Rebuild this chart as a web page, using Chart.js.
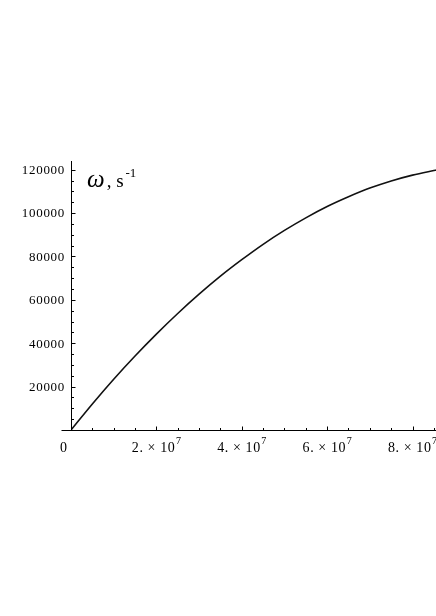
<!DOCTYPE html>
<html>
<head>
<meta charset="utf-8">
<script src="https://cdn.jsdelivr.net/npm/chart.js@4/dist/chart.umd.min.js"></script>
<style>
  html, body { margin: 0; padding: 0; background: #ffffff; }
  #wrap { width: 436px; height: 616px; position: relative; }
</style>
</head>
<body>
<div id="wrap"><canvas id="c" width="436" height="616"></canvas></div>
<script>
// ---- data ----
const xValues = [0, 5e6, 1e7, 1.5e7, 2e7, 2.5e7, 3e7, 3.5e7, 4e7, 4.5e7, 5e7, 5.5e7, 6e7, 6.5e7, 7e7, 7.5e7, 8e7, 8.5e7, 8.55e7];
const omegaValues = [0, 12000, 23400, 34100, 44200, 53700, 62600, 70900, 78500, 85600, 92000, 97800, 103000, 107500, 111500, 114800, 117500, 119600, 119800];

const yTickValues = [20000, 40000, 60000, 80000, 100000, 120000];
const yTickLabels = ["20000", "40000", "60000", "80000", "100000", "120000"];
const xTickValues = [2e7, 4e7, 6e7, 8e7];
const xTickMantissas = ["2.", "4.", "6.", "8."];
const xTickExponent = "7";
const originLabel = "0";
const xMinorStep = 5e6;
const yMinorStep = 5000;
const xMax = 8.55e7;
const yMax = 124000;

const axisLabelSymbol = "\u03C9";
const axisLabelUnit = ", s";
const axisLabelExp = "-1";

const points = xValues.map((x, i) => ({ x: x, y: omegaValues[i] }));

const SERIF = '"Liberation Serif", "Times New Roman", serif';

const axesPlugin = {
  id: 'mmaAxes',
  afterDraw(chart) {
    const ctx = chart.ctx;
    const xs = chart.scales.x, ys = chart.scales.y;
    const x0 = xs.getPixelForValue(0), y0 = ys.getPixelForValue(0);
    const xEnd = xs.getPixelForValue(xMax), yTop = ys.getPixelForValue(yMax);
    ctx.save();
    ctx.strokeStyle = '#000';
    ctx.lineWidth = 1;
    // axes lines
    ctx.beginPath();
    ctx.moveTo(x0 - 9.5, Math.round(y0) + 0.5);
    ctx.lineTo(xEnd, Math.round(y0) + 0.5);
    ctx.moveTo(Math.round(x0) + 0.5, Math.round(y0) + 0.5);
    ctx.lineTo(Math.round(x0) + 0.5, yTop);
    ctx.stroke();
    // x ticks (pointing up)
    ctx.beginPath();
    for (let v = xMinorStep; v <= xMax; v += xMinorStep) {
      const px = Math.round(xs.getPixelForValue(v)) + 0.5;
      const major = xTickValues.some(t => Math.abs(t - v) < 1);
      ctx.moveTo(px, Math.round(y0));
      ctx.lineTo(px, Math.round(y0) - (major ? 3.5 : 2));
    }
    // y ticks (pointing right)
    for (let v = yMinorStep; v <= yMax; v += yMinorStep) {
      const py = Math.round(ys.getPixelForValue(v)) + 0.5;
      const major = yTickValues.some(t => Math.abs(t - v) < 1);
      ctx.moveTo(Math.round(x0) + 1, py);
      ctx.lineTo(Math.round(x0) + 1 + (major ? 3.5 : 2), py);
    }
    ctx.stroke();

    // y labels
    ctx.fillStyle = '#000';
    ctx.font = '13px ' + SERIF;
    try { ctx.letterSpacing = '0.7px'; } catch (e) {}
    ctx.textAlign = 'right';
    ctx.textBaseline = 'middle';
    yTickValues.forEach((v, i) => {
      ctx.fillText(yTickLabels[i], x0 - 6, ys.getPixelForValue(v) + 1);
    });

    // x labels
    ctx.textBaseline = 'alphabetic';
    const base = y0 + 22;
    ctx.textAlign = 'center';
    ctx.font = '14px ' + SERIF;
    try { ctx.letterSpacing = '0px'; } catch (e) {}
    ctx.fillText(originLabel, x0 - 7.5, base);
    xTickValues.forEach((v, i) => {
      const main = xTickMantissas[i] + " \u00D7 10";
      try { ctx.letterSpacing = '0.6px'; } catch (e) {}
      ctx.font = '14px ' + SERIF;
      const w1 = ctx.measureText(main).width;
      ctx.font = '10px ' + SERIF;
      const w2 = ctx.measureText(xTickExponent).width;
      const total = w1 + w2;
      const px = xs.getPixelForValue(v);
      const left = px - total / 2;
      ctx.textAlign = 'left';
      ctx.font = '14px ' + SERIF;
      ctx.fillText(main, left, base);
      ctx.font = '10px ' + SERIF;
      ctx.fillText(xTickExponent, left + w1 + 0.5, base - 8);
    });
    try { ctx.letterSpacing = '0px'; } catch (e) {}

    // axis label  ω, s^-1
    const lx = x0 + 16, ly = yTop + 26;
    ctx.textAlign = 'left';
    ctx.font = 'italic 25px ' + SERIF;
    ctx.fillText(axisLabelSymbol, lx, ly);
    const wω = ctx.measureText(axisLabelSymbol).width;
    ctx.font = '19px ' + SERIF;
    ctx.fillText(axisLabelUnit, lx + wω + 2, ly);
    const wu = ctx.measureText(axisLabelUnit).width;
    ctx.font = '13px ' + SERIF;
    ctx.fillText(axisLabelExp, lx + wω + 2 + wu + 2, ly - 10);
    ctx.restore();
  }
};

new Chart(document.getElementById('c'), {
  type: 'scatter',
  data: {
    datasets: [{
      data: points,
      showLine: true,
      borderColor: '#111',
      borderWidth: 1.6,
      pointRadius: 0,
      fill: false,
      cubicInterpolationMode: 'monotone'
    }]
  },
  options: {
    responsive: false,
    animation: false,
    devicePixelRatio: 1,
    layout: { padding: { left: 71, right: 0, top: 161, bottom: 186 } },
    plugins: { legend: { display: false }, tooltip: { enabled: false } },
    scales: {
      x: { type: 'linear', display: false, min: 0, max: xMax },
      y: { type: 'linear', display: false, min: 0, max: yMax }
    }
  },
  plugins: [axesPlugin]
});
</script>
</body>
</html>
